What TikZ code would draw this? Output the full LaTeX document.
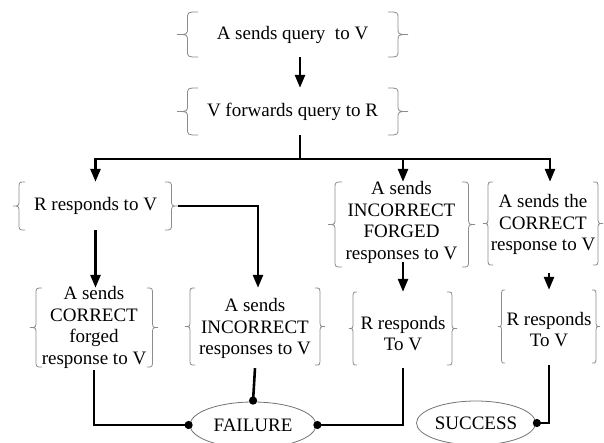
\documentclass[tikz,border=0pt]{standalone}
\usepackage{fontspec}
\setmainfont{Liberation Serif}
\usetikzlibrary{arrows.meta,shapes.geometric,calc}
\tikzset{
  txt/.style={inner sep=0pt, align=center, font=\fontsize{19}{21.5}\selectfont},
  frame/.style={inner sep=0pt, draw=none},
  brc/.style={draw=black!45, line width=0.8pt},
  conn/.style={line width=2.6pt, black},
  arr/.style={conn, -{Triangle[length=13pt,width=10pt]}},
  dotend/.style={conn, -{Circle[length=8pt]}, shorten >=-3pt},
  oval/.style={ellipse, draw=black!55, line width=0.8pt, inner sep=0pt, font=\fontsize{19}{21.5}\selectfont},
}
\newcommand\Bnode[9]{%
  \pgfmathsetmacro\Bcx{(#2+#4)/2}%
  \pgfmathsetmacro\Bcy{(#3+#5)/2}%
  \pgfmathsetmacro\Bty{\Bcy+#9}%
  \pgfmathsetmacro\Bw{#4-#2}%
  \pgfmathsetmacro\Bh{#5-#3}%
  \pgfmathsetmacro\Br{min(7,\Bh/5)}%
  \pgfmathsetmacro\Blm{#2+#6/2}%
  \pgfmathsetmacro\Ble{#2+#6}%
  \pgfmathsetmacro\Brm{#4-#7/2}%
  \pgfmathsetmacro\Bre{#4-#7}%
  \node[frame, minimum width=\Bw pt, minimum height=\Bh pt] (#1) at (\Bcx,\Bcy) {};
  \node[txt] (#1-t) at (\Bcx,\Bty) {#8};
  \draw[brc] (\Ble,#3) .. controls (\Blm,#3) .. (\Blm,{#3+\Br}) -- (\Blm,{\Bcy-\Br})
     .. controls (\Blm,\Bcy) .. (#2,\Bcy) .. controls (\Blm,\Bcy) .. (\Blm,{\Bcy+\Br})
     -- (\Blm,{#5-\Br}) .. controls (\Blm,#5) .. (\Ble,#5);
  \draw[brc] (\Bre,#3) .. controls (\Brm,#3) .. (\Brm,{#3+\Br}) -- (\Brm,{\Bcy-\Br})
     .. controls (\Brm,\Bcy) .. (#4,\Bcy) .. controls (\Brm,\Bcy) .. (\Brm,{\Bcy+\Br})
     -- (\Brm,{#5-\Br}) .. controls (\Brm,#5) .. (\Bre,#5);
}
\begin{document}
\begin{tikzpicture}[x={(1pt,0)}, y={(0,-1pt)}]
\useasboundingbox (0,0) rectangle (604,442);
\clip (0,0) rectangle (604,442);

\Bnode{b1}{177}{12}{408}{57}{21}{20}{A sends query~ to V}{0}
\Bnode{b2}{177}{88}{408}{135}{21}{20}{V forwards query to R}{0}
\Bnode{rr}{13}{182}{178}{230}{12}{13}{R responds to V}{0}
\Bnode{inf}{328}{182}{475}{267}{14}{13}{A sends\\INCORRECT\\FORGED\\responses to V}{-2}
\Bnode{cr}{483}{182}{603}{265}{10}{10}{A sends the\\CORRECT\\response to V}{1}
\Bnode{cf}{30}{288}{158}{367}{12}{11}{A sends\\CORRECT\\forged\\response to V}{0}
\Bnode{ir}{185}{288}{325}{365}{10}{10}{A sends\\INCORRECT\\responses to V}{2}
\Bnode{rm}{349}{292}{457}{365}{8}{10}{R responds\\To V}{5}
\Bnode{rrt}{498}{290}{600}{363}{7}{8}{R responds\\To V}{3}

\node[oval, minimum width=126pt, minimum height=46pt] (fail) at (253,425) {FAILURE};
\node[oval, minimum width=119pt, minimum height=44pt] (succ) at (476,423) {SUCCESS};

\coordinate (split) at (300,159);
\draw[arr] ([xshift=7.5pt]b1.south) -- ([xshift=7.5pt]b2.north);
\draw[conn] ([xshift=7.5pt]b2.south) -- (split);
\draw[arr] (split) -| (rr.north);
\draw[arr] (split) -| ([xshift=7pt]cr.north);
\draw[arr] (split -| rm.north) -- (rm.north |- inf.north);
\draw[arr] (rr.south) -- (rr.south |- cf.north);
\draw[arr] (rr.east) -| ([xshift=3pt]ir.north);
\draw[arr] ($(inf.south -| rm.north)+(0,-5)$) -- (rm.north);
\draw[arr] ($(cr.south -| rrt.north)+(0,8)$) -- (rrt.north);
\draw[dotend] ($(cf.south)+(0,3)$) |- (fail.west);
\draw[dotend] ($(ir.south)+(0,3)$) -- (fail.north);
\draw[dotend] ($(rm.south)+(0,3)$) |- (fail.east);
\draw[dotend] ($(rrt.south)+(0,2)$) |- (succ.east);
\end{tikzpicture}
\end{document}
